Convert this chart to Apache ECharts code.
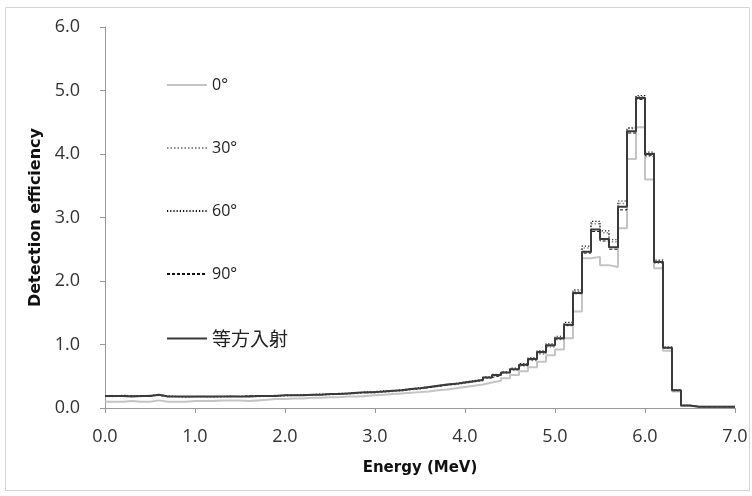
<!DOCTYPE html>
<html>
<head>
<meta charset="utf-8">
<script src="https://cdn.jsdelivr.net/npm/echarts@6/dist/echarts.min.js"></script>
<style>
  html, body { margin: 0; padding: 0; background: #fff; }
  #chart { width: 752px; height: 496px; }
</style>
</head>
<body>
<div id="chart"></div>
<script>
// bin start energies (MeV), 0.1 MeV bins, last edge 7.0
const binStart = [
  0.0, 0.1, 0.2, 0.3, 0.4, 0.5, 0.6, 0.7, 0.8, 0.9,
  1.0, 1.1, 1.2, 1.3, 1.4, 1.5, 1.6, 1.7, 1.8, 1.9,
  2.0, 2.1, 2.2, 2.3, 2.4, 2.5, 2.6, 2.7, 2.8, 2.9,
  3.0, 3.1, 3.2, 3.3, 3.4, 3.5, 3.6, 3.7, 3.8, 3.9,
  4.0, 4.1, 4.2, 4.3, 4.4, 4.5, 4.6, 4.7, 4.8, 4.9,
  5.0, 5.1, 5.2, 5.3, 5.4, 5.5, 5.6, 5.7, 5.8, 5.9,
  6.0, 6.1, 6.2, 6.3, 6.4, 6.5, 6.6, 6.7, 6.8, 6.9
];
const lastEdge = 7.0;

const deg0 = [
  0.10, 0.10, 0.11, 0.10, 0.10, 0.12, 0.10, 0.10, 0.10, 0.11,
  0.11, 0.11, 0.12, 0.12, 0.12, 0.11, 0.12, 0.13, 0.14, 0.14,
  0.15, 0.15, 0.16, 0.16, 0.17, 0.17, 0.18, 0.18, 0.19, 0.20,
  0.21, 0.22, 0.23, 0.24, 0.25, 0.26, 0.28, 0.29, 0.31, 0.33,
  0.35, 0.37, 0.40, 0.43, 0.47, 0.52, 0.58, 0.64, 0.73, 0.83,
  0.92, 1.10, 1.52, 2.36, 2.38, 2.25, 2.22, 2.83, 3.92, 4.42,
  3.60, 2.20, 0.90, 0.26, 0.03, 0.02, 0.02, 0.02, 0.02, 0.02
];
const deg30 = [
  0.18, 0.19, 0.19, 0.18, 0.19, 0.20, 0.18, 0.18, 0.17, 0.18,
  0.18, 0.17, 0.18, 0.18, 0.18, 0.18, 0.18, 0.19, 0.19, 0.19,
  0.20, 0.20, 0.20, 0.21, 0.21, 0.22, 0.22, 0.23, 0.24, 0.24,
  0.25, 0.26, 0.27, 0.29, 0.30, 0.32, 0.34, 0.36, 0.37, 0.39,
  0.41, 0.43, 0.47, 0.51, 0.55, 0.60, 0.66, 0.75, 0.85, 0.96,
  1.08, 1.30, 1.84, 2.52, 2.90, 2.76, 2.62, 3.22, 4.40, 4.90,
  3.96, 2.28, 0.94, 0.27, 0.04, 0.02, 0.02, 0.02, 0.02, 0.02
];
const deg60 = [
  0.19, 0.20, 0.19, 0.19, 0.20, 0.21, 0.19, 0.18, 0.18, 0.18,
  0.18, 0.18, 0.18, 0.19, 0.18, 0.19, 0.19, 0.19, 0.20, 0.20,
  0.20, 0.21, 0.21, 0.22, 0.22, 0.23, 0.23, 0.24, 0.25, 0.26,
  0.27, 0.27, 0.29, 0.30, 0.32, 0.33, 0.35, 0.37, 0.39, 0.41,
  0.43, 0.45, 0.49, 0.53, 0.57, 0.63, 0.70, 0.79, 0.90, 1.01,
  1.13, 1.35, 1.86, 2.55, 2.94, 2.79, 2.65, 3.26, 4.41, 4.92,
  4.03, 2.33, 0.96, 0.28, 0.04, 0.02, 0.02, 0.02, 0.02, 0.02
];
const deg90 = [
  0.19, 0.19, 0.19, 0.19, 0.19, 0.20, 0.18, 0.18, 0.18, 0.18,
  0.18, 0.18, 0.18, 0.18, 0.18, 0.19, 0.19, 0.19, 0.19, 0.20,
  0.20, 0.20, 0.21, 0.21, 0.22, 0.22, 0.23, 0.24, 0.24, 0.25,
  0.26, 0.27, 0.28, 0.29, 0.31, 0.32, 0.34, 0.36, 0.38, 0.40,
  0.42, 0.44, 0.48, 0.51, 0.56, 0.61, 0.67, 0.76, 0.87, 0.98,
  1.09, 1.30, 1.80, 2.44, 2.78, 2.63, 2.50, 3.12, 4.33, 4.86,
  3.98, 2.31, 0.95, 0.28, 0.04, 0.02, 0.02, 0.02, 0.02, 0.02
];
const isotropic = [
  0.19, 0.19, 0.18, 0.19, 0.19, 0.21, 0.18, 0.18, 0.18, 0.18,
  0.18, 0.18, 0.18, 0.18, 0.18, 0.18, 0.19, 0.19, 0.19, 0.20,
  0.20, 0.20, 0.21, 0.21, 0.22, 0.22, 0.23, 0.24, 0.25, 0.25,
  0.26, 0.27, 0.28, 0.30, 0.31, 0.33, 0.35, 0.37, 0.38, 0.40,
  0.42, 0.44, 0.48, 0.52, 0.56, 0.61, 0.68, 0.77, 0.88, 0.99,
  1.10, 1.31, 1.81, 2.46, 2.81, 2.66, 2.53, 3.17, 4.36, 4.88,
  4.00, 2.30, 0.95, 0.28, 0.04, 0.02, 0.02, 0.02, 0.02, 0.02
];

const seriesNames = ["0°", "30°", "60°", "90°", "等方入射"];
const xTicks = [0, 1, 2, 3, 4, 5, 6, 7];
const yTicks = [0, 1, 2, 3, 4, 5, 6];

// histogram points: [binStart, value] + closing point at the last edge
function toSteps(vals) {
  const pts = binStart.map((x, i) => [x, vals[i]]);
  pts.push([lastEdge, vals[vals.length - 1]]);
  return pts;
}

const chart = echarts.init(document.getElementById("chart"));
const font = "'Open Sans', 'Noto Sans CJK JP', sans-serif";
const boldFont = "'DejaVu Sans', sans-serif";

function stepSeries(name, vals, color, width, type, z) {
  return {
    name: name,
    type: "line",
    step: "end",
    symbol: "none",
    z: z,
    lineStyle: { color: color, width: width, type: type },
    itemStyle: { color: color },
    data: toSteps(vals),
  };
}

const option = {
  animation: false,
  backgroundColor: "#fff",
  grid: { left: 105, right: 17, top: 27, bottom: 88 },
  legend: {
    orient: "vertical",
    left: 161,
    top: 72,
    itemGap: 47,
    itemWidth: 40,
    itemHeight: 14,
    itemStyle: { opacity: 0 },
    data: seriesNames,
    formatter: (n) => (n === "等方入射" ? "{cjk|" + n + "}" : n),
    textStyle: {
      fontFamily: font, fontSize: 16, color: "#222", lineHeight: 14,
      rich: { cjk: { fontFamily: "'Noto Sans CJK JP', sans-serif", fontSize: 19, lineHeight: 14, color: "#222" } },
    },
  },
  xAxis: {
    type: "value",
    min: xTicks[0],
    max: xTicks[xTicks.length - 1],
    interval: 1,
    name: "Energy (MeV)",
    nameLocation: "middle",
    nameGap: 53,
    nameTextStyle: { fontFamily: boldFont, fontSize: 15, fontWeight: "bold", color: "#111" },
    axisLine: { lineStyle: { color: "#9a9a9a", width: 1 } },
    axisTick: { show: true, length: 5, lineStyle: { color: "#9a9a9a" } },
    axisLabel: {
      margin: 20,
      fontFamily: font, fontSize: 18, color: "#333",
      formatter: (v) => v.toFixed(1),
    },
    splitLine: { show: false },
  },
  yAxis: {
    type: "value",
    min: yTicks[0],
    max: yTicks[yTicks.length - 1],
    interval: 1,
    name: "Detection efficiency",
    nameLocation: "middle",
    nameGap: 60,
    nameTextStyle: { fontFamily: boldFont, fontSize: 16, fontWeight: "bold", color: "#111" },
    axisLine: { show: true, lineStyle: { color: "#9a9a9a", width: 1 } },
    axisTick: { show: true, length: 5, lineStyle: { color: "#9a9a9a" } },
    axisLabel: {
      margin: 25,
      fontFamily: font, fontSize: 18, color: "#333",
      formatter: (v) => v.toFixed(1),
    },
    splitLine: { show: false },
  },
  graphic: [
    {
      type: "rect",
      shape: { x: 5.5, y: 7.5, width: 744, height: 483 },
      style: { fill: "none", stroke: "#d4d4d4", lineWidth: 1 },
      silent: true,
    },
  ],
  series: [
    stepSeries(seriesNames[0], deg0, "#c4c4c4", 2, "solid", 1),
    stepSeries(seriesNames[1], deg30, "#8a8a8a", 1.5, [1.5, 2], 2),
    stepSeries(seriesNames[2], deg60, "#111", 1.2, [1.2, 2], 3),
    stepSeries(seriesNames[3], deg90, "#111", 1, [3, 2], 4),
    stepSeries(seriesNames[4], isotropic, "#3a3a3a", 2, "solid", 5),
  ],
};
chart.setOption(option);
</script>
</body>
</html>
